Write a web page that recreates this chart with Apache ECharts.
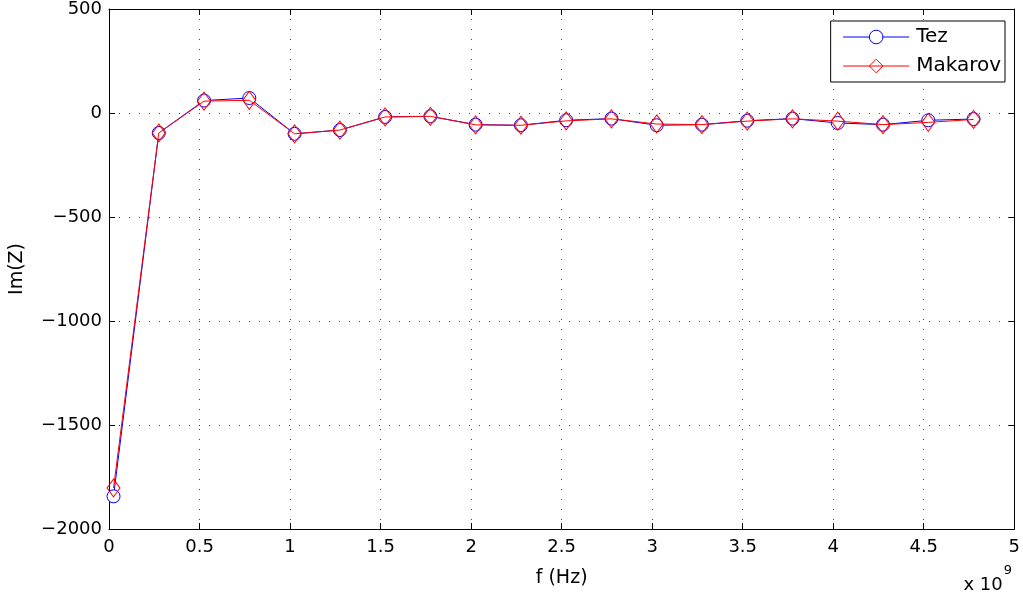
<!DOCTYPE html>
<html>
<head>
<meta charset="utf-8">
<script src="https://cdn.jsdelivr.net/npm/echarts@6/dist/echarts.min.js"></script>
<style>
  html, body { margin: 0; padding: 0; background: #fff; }
  #chart { width: 1023px; height: 601px; }
</style>
</head>
<body>
<div id="chart"></div>
<script>
// Frequency samples (in units of 1e9 Hz)
const freq = [0.025, 0.275, 0.525, 0.775, 1.025, 1.275, 1.525, 1.775, 2.025, 2.275,
              2.525, 2.775, 3.025, 3.275, 3.525, 3.775, 4.025, 4.275, 4.525, 4.775];
// Imaginary part of impedance for each model
const tez     = [-1843, -96, 60, 72, -100, -82, -19, -16, -56, -59,
                 -35, -27, -59, -56, -37, -27, -48, -56, -35, -29];
const makarov = [-1803, -96, 57, 61, -100, -82, -19, -16, -57, -59,
                 -38, -28, -53, -56, -39, -28, -39, -56, -45, -31];
const xTicks = [0, 0.5, 1, 1.5, 2, 2.5, 3, 3.5, 4, 4.5, 5];
const yTicks = [-2000, -1500, -1000, -500, 0, 500];

const FONT = 'DejaVu Sans';
const fmtX = v => (Math.abs(v) < 1e-9 ? '0' : String(+v.toFixed(2)));
const fmtY = v => String(v).replace('-', '\u2212');

const chart = echarts.init(document.getElementById('chart'), null, { renderer: 'canvas' });

const gridLine = { show: true, lineStyle: { color: '#444', width: 1, type: [1, 9] } };

chart.setOption({
  animation: false,
  backgroundColor: '#fff',
  textStyle: { fontFamily: FONT },
  grid: { left: 107, right: 7, top: 9, bottom: 72, containLabel: false },
  xAxis: [
    {
      type: 'value', min: xTicks[0], max: xTicks[xTicks.length - 1], interval: 0.5,
      position: 'bottom',
      name: 'f (Hz)', nameLocation: 'middle', nameGap: 40,
      nameTextStyle: { fontFamily: FONT, fontSize: 19, color: '#000' },
      axisLine: { show: true, onZero: false, lineStyle: { color: '#000', width: 1 } },
      axisTick: { show: true, inside: true, length: 6, lineStyle: { color: '#000' } },
      axisLabel: { fontFamily: FONT, fontSize: 18, color: '#000', margin: 9, formatter: fmtX },
      splitLine: gridLine
    },
    {
      type: 'value', min: xTicks[0], max: xTicks[xTicks.length - 1], interval: 0.5,
      position: 'top',
      axisLine: { show: true, onZero: false, lineStyle: { color: '#000', width: 1 } },
      axisTick: { show: true, inside: true, length: 6, lineStyle: { color: '#000' } },
      axisLabel: { show: false },
      splitLine: { show: false }
    }
  ],
  yAxis: [
    {
      type: 'value', min: yTicks[0], max: yTicks[yTicks.length - 1], interval: 500,
      position: 'left',
      name: 'Im(Z)', nameLocation: 'middle', nameGap: 82, nameRotate: 90,
      nameTextStyle: { fontFamily: FONT, fontSize: 19, color: '#000' },
      axisLine: { show: true, onZero: false, lineStyle: { color: '#000', width: 1 } },
      axisTick: { show: true, inside: true, length: 6, lineStyle: { color: '#000' } },
      axisLabel: { fontFamily: FONT, fontSize: 18, color: '#000', margin: 7, formatter: fmtY },
      splitLine: gridLine
    },
    {
      type: 'value', min: yTicks[0], max: yTicks[yTicks.length - 1], interval: 500,
      position: 'right',
      axisLine: { show: true, onZero: false, lineStyle: { color: '#000', width: 1 } },
      axisTick: { show: true, inside: true, length: 6, lineStyle: { color: '#000' } },
      axisLabel: { show: false },
      splitLine: { show: false }
    }
  ],
  legend: {
    orient: 'vertical',
    right: 18, top: 21,
    backgroundColor: '#fff',
    borderColor: '#000', borderWidth: 1,
    padding: [6, 4, 6, 12],
    itemGap: 9,
    itemWidth: 66, itemHeight: 17,
    itemStyle: { borderWidth: 1 },
    lineStyle: { width: 1 },
    textStyle: { fontFamily: FONT, fontSize: 20, color: '#000', padding: [0, 0, 0, 2] },
    data: ['Tez', 'Makarov']
  },
  graphic: [
    {
      type: 'text', right: 11, top: 564,
      style: {
        text: '{b|x 10}{s|9}',
        rich: {
          b: { fontFamily: FONT, fontSize: 18, fill: '#000', padding: [12, 0, 0, 0] },
          s: { fontFamily: FONT, fontSize: 13, fill: '#000', verticalAlign: 'top', padding: [0, 0, 10, 1] }
        }
      }
    }
  ],
  series: [
    {
      name: 'Tez', type: 'line',
      data: freq.map((f, i) => [f, tez[i]]),
      symbol: 'circle', symbolSize: 13,
      showAllSymbol: true,
      lineStyle: { color: '#0000ff', width: 1 },
      itemStyle: { color: '#fff', borderColor: '#0000ff', borderWidth: 1 },
      z: 2
    },
    {
      name: 'Makarov', type: 'line',
      data: freq.map((f, i) => [f, makarov[i]]),
      symbol: 'diamond', symbolSize: [13, 18],
      showAllSymbol: true,
      lineStyle: { color: '#ff0000', width: 1 },
      itemStyle: { color: 'rgba(255,255,255,0)', borderColor: '#ff0000', borderWidth: 1 },
      z: 3
    }
  ]
});
</script>
</body>
</html>
